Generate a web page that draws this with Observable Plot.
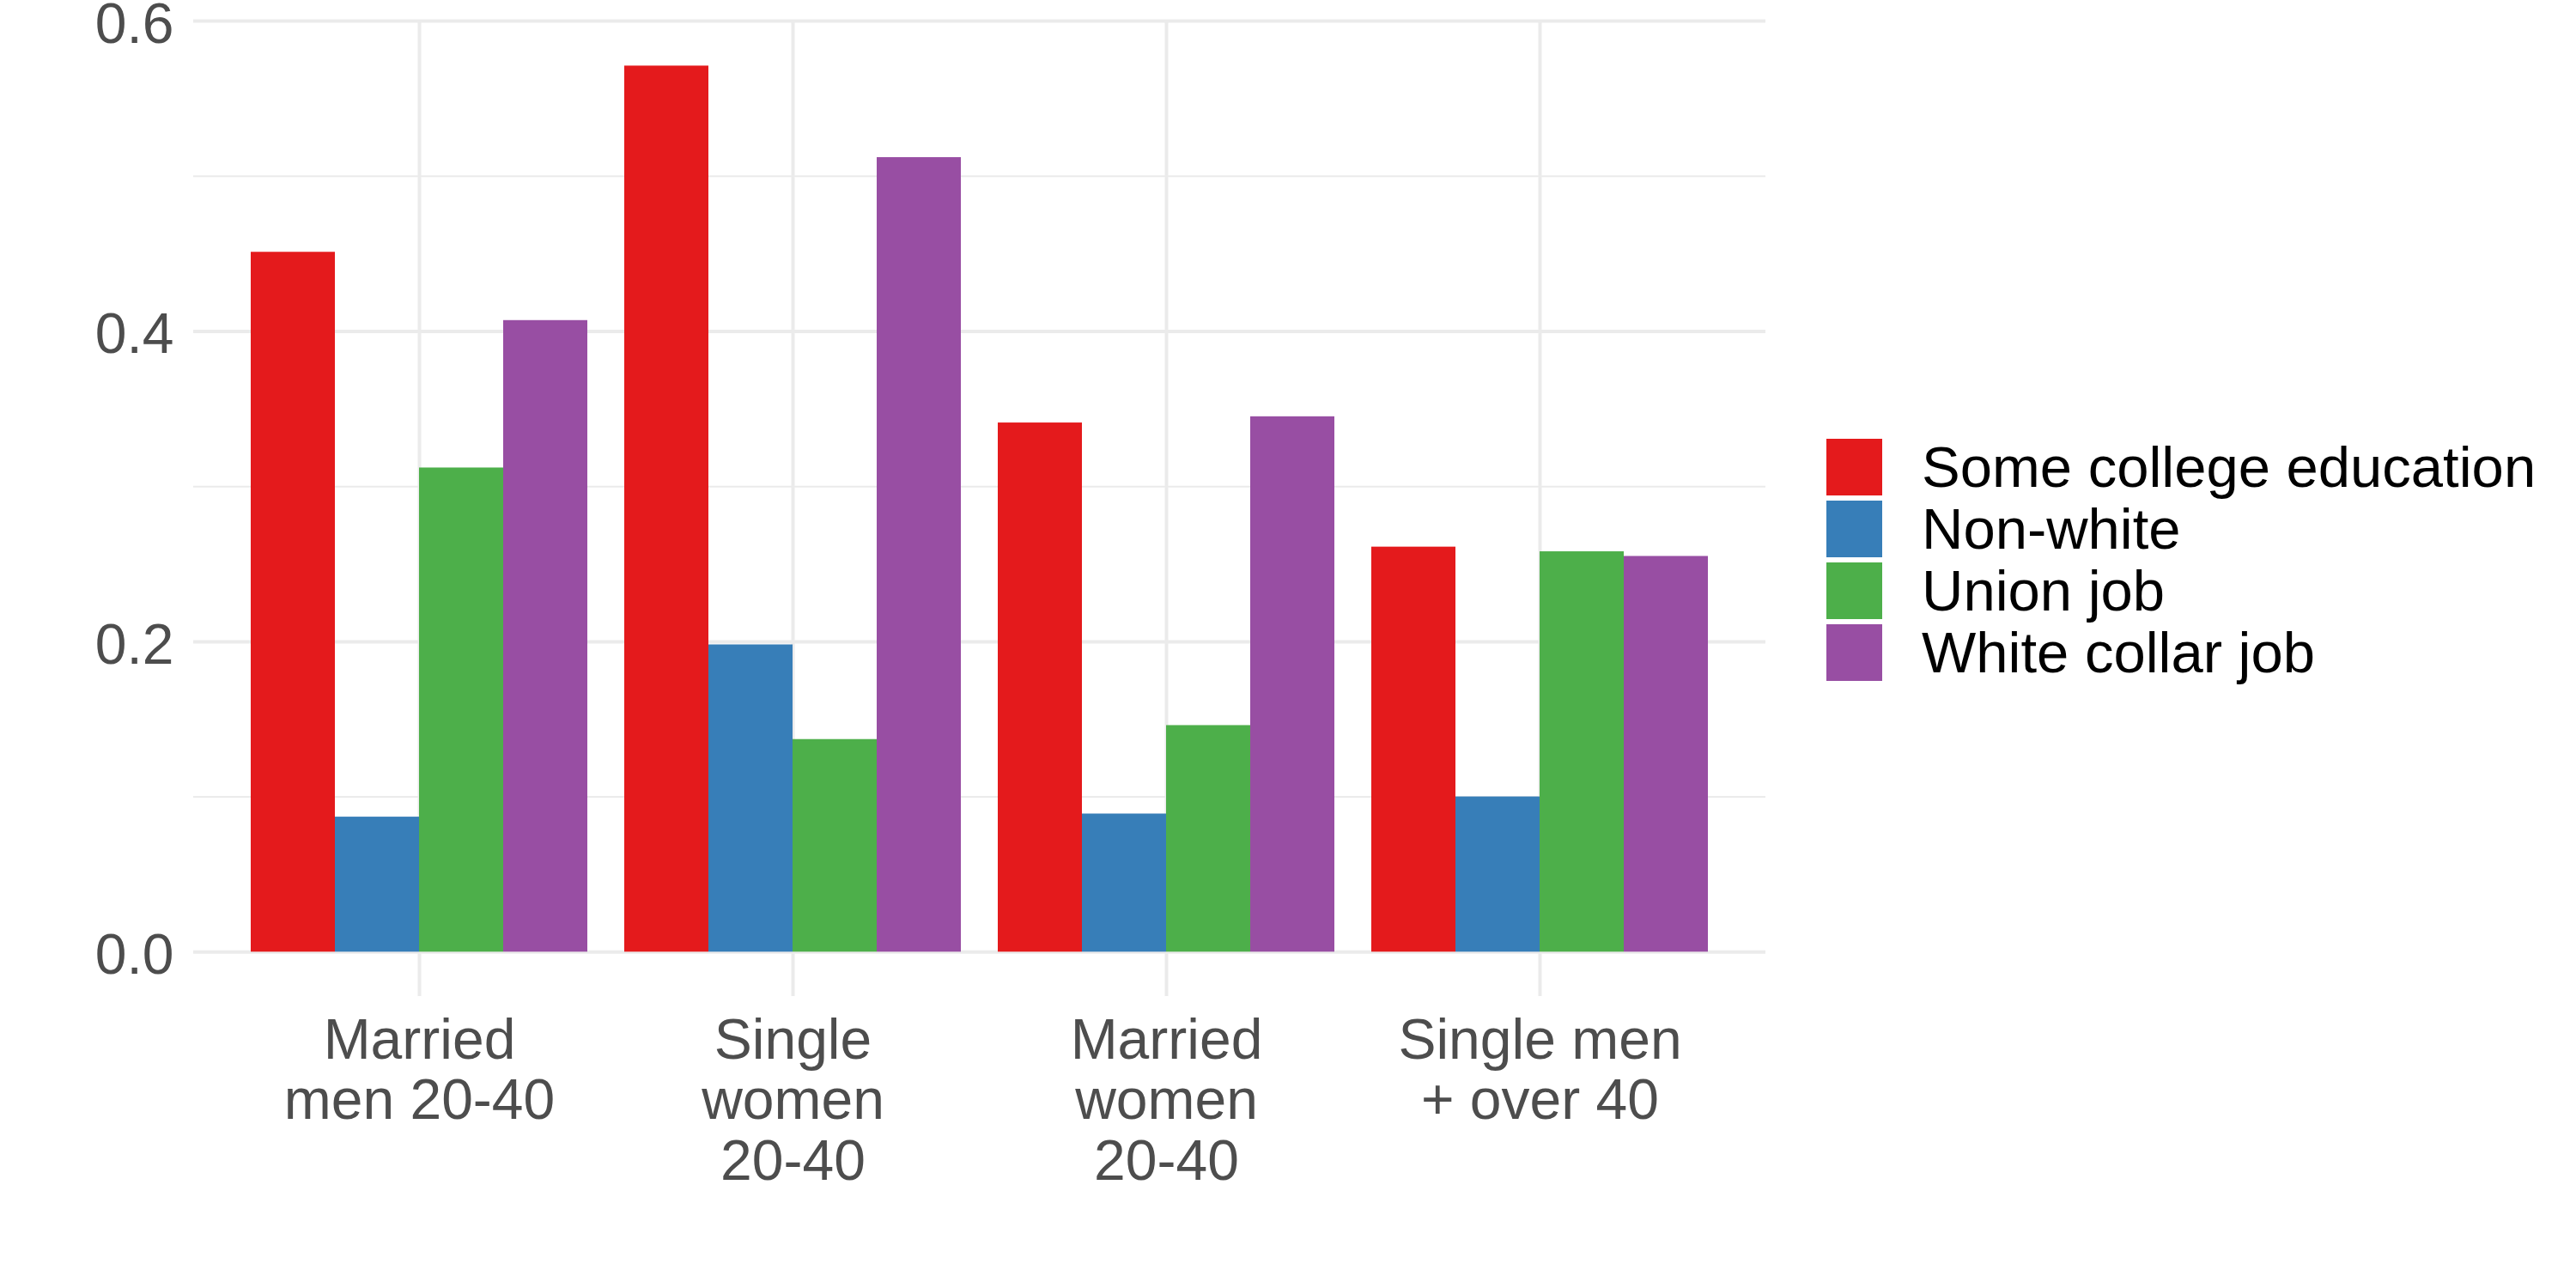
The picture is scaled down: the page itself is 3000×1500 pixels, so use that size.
<!DOCTYPE html>
<html>
<head>
<meta charset="utf-8">
<script src="https://cdn.jsdelivr.net/npm/d3@7"></script>
<script src="https://cdn.jsdelivr.net/npm/@observablehq/plot@0.6"></script>
<style>
  html, body { margin: 0; padding: 0; background: #fff; }
  #wrap { position: relative; width: 3000px; height: 1500px; font-family: "Liberation Sans", Arial, sans-serif; }
  #wrap svg { position: absolute; left: 0; top: 0; }
  #legend { position: absolute; left: 2127px; top: 511px; }
  .row { display: flex; align-items: center; height: 66px; margin-bottom: 6px; }
  .key { width: 65px; height: 66px; margin-right: 46px; }
  .lab { font-size: 67px; color: #000; line-height: 66px; white-space: nowrap; }
</style>
</head>
<body>
<div id="wrap"><div id="legend"></div></div>
<script>
const categories = ["Married men 20-40", "Single women 20-40", "Married women 20-40", "Single men + over 40"];
const categoryLabels = ["Married\nmen 20-40", "Single\nwomen\n20-40", "Married\nwomen\n20-40", "Single men\n+ over 40"];
const series = ["Some college education", "Non-white", "Union job", "White collar job"];
const colors = ["#E41A1C", "#377EB8", "#4DAF4A", "#984EA3"];
const someCollege = [0.451, 0.571, 0.341, 0.261];
const nonWhite    = [0.087, 0.198, 0.089, 0.100];
const unionJob    = [0.312, 0.137, 0.146, 0.258];
const whiteCollar = [0.407, 0.512, 0.345, 0.255];
const majorTicks = [0, 0.2, 0.4, 0.6];
const minorTicks = [0.1, 0.3, 0.5];

const seriesValues = [someCollege, nonWhite, unionJob, whiteCollar];
const rows = [];
categories.forEach((c, i) => series.forEach((s, j) => rows.push({group: c, series: s, value: seriesValues[j][i]})));

const W = 3000, H = 1500;
const margins = {marginLeft: 225, marginRight: 944, marginTop: 24, marginBottom: 340};
const yDomain = [-0.0286, 0.6];
const grid = "#EBEBEB";
const font = "'Liberation Sans', Arial, sans-serif";

const bg = Plot.plot({
  width: W, height: H, ...margins,
  style: {fontFamily: font, background: "#fff", overflow: "visible"},
  x: {type: "band", domain: categories, paddingInner: 0.1, paddingOuter: 0.15},
  y: {domain: yDomain},
  marks: [
    Plot.ruleY(minorTicks, {y: d => d, stroke: grid, strokeWidth: 2}),
    Plot.ruleY(majorTicks, {y: d => d, stroke: grid, strokeWidth: 4}),
    Plot.ruleX(categories, {x: d => d, stroke: grid, strokeWidth: 4}),
    Plot.axisY({ticks: majorTicks, tickFormat: d3.format(".1f"), tickSize: 0, tickPadding: 23, fontSize: 66, dy: 4, color: "#4D4D4D", label: null}),
    Plot.axisX({tickSize: 0, tickPadding: 22, fontSize: 66, color: "#4D4D4D", label: null, lineHeight: 1.07,
      tickFormat: d => categoryLabels[categories.indexOf(d)]})
  ]
});

const bars = Plot.plot({
  width: W, height: H, ...margins,
  style: {fontFamily: font, background: "transparent"},
  facet: {data: rows, x: "group"},
  fx: {domain: categories, paddingInner: 0.1, paddingOuter: 0.15, axis: null, label: null},
  x: {domain: series, padding: 0, axis: null},
  y: {domain: yDomain, axis: null},
  color: {domain: series, range: colors},
  marks: [
    Plot.barY(rows, {x: "series", y: "value", fill: "series"})
  ]
});

const wrap = document.getElementById("wrap");
wrap.insertBefore(bars, wrap.firstChild);
wrap.insertBefore(bg, wrap.firstChild);

const legend = document.getElementById("legend");
series.forEach((s, i) => {
  const r = document.createElement("div"); r.className = "row";
  const k = document.createElement("div"); k.className = "key"; k.style.background = colors[i];
  const t = document.createElement("div"); t.className = "lab"; t.textContent = s;
  r.appendChild(k); r.appendChild(t); legend.appendChild(r);
});
</script>
</body>
</html>
